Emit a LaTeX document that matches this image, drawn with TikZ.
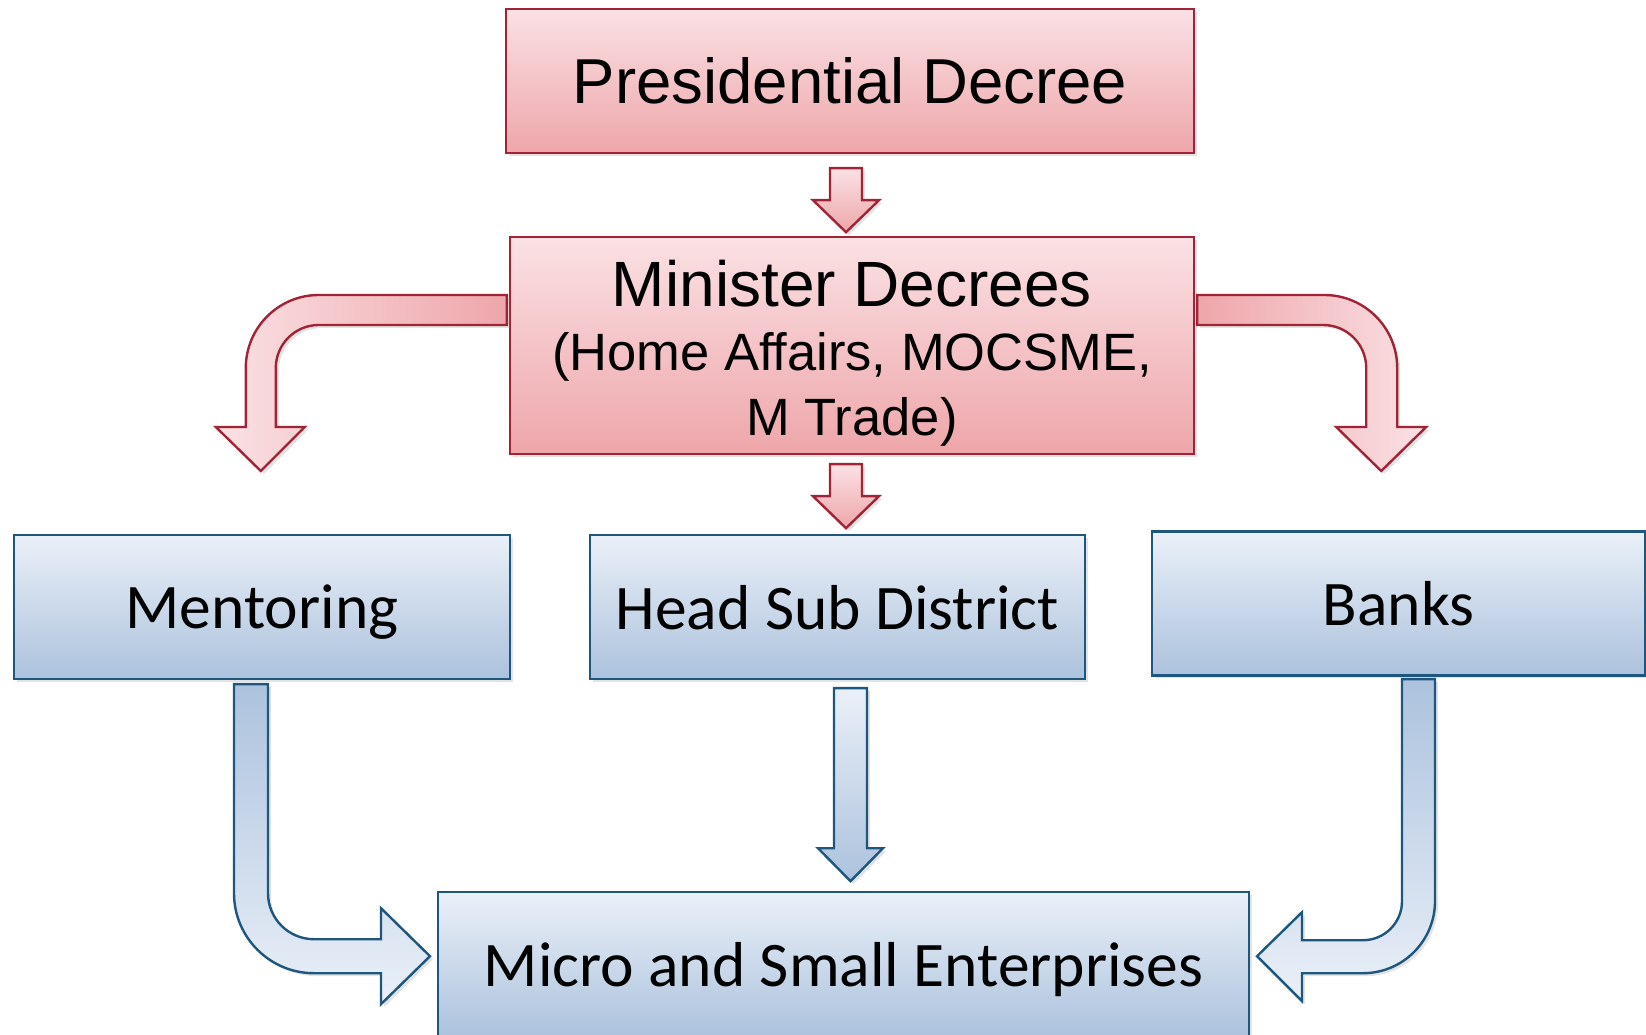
\documentclass[tikz,border=0pt]{standalone}
\usepackage{fontspec}
\setmainfont{Liberation Sans}
\newfontfamily\calibri{Carlito}
\usetikzlibrary{shadows}

\definecolor{decreetop}{RGB}{250,225,228}
\definecolor{decreebottom}{RGB}{238,166,170}
\definecolor{decreeline}{RGB}{160,36,54}
\definecolor{unittop}{RGB}{234,240,248}
\definecolor{unitbottom}{RGB}{172,194,221}
\definecolor{unitline}{RGB}{30,86,126}

\begin{document}
\begin{tikzpicture}[x=1pt,y=1pt,
    soft shadow/.style={drop shadow={opacity=0.22,shadow xshift=3pt,shadow yshift=-3pt}},
    decree node/.style={draw=decreeline,line width=2.4pt,top color=decreetop,bottom color=decreebottom,
      soft shadow,inner sep=0pt,font=\fontsize{63.5}{76}\selectfont},
    unit node/.style={draw=unitline,line width=2.4pt,top color=unittop,bottom color=unitbottom,
      soft shadow,inner sep=0pt,minimum height=144pt,text depth=0pt,font=\calibri\fontsize{63.5}{76}\selectfont},
    red arrow/.style={draw=decreeline,line width=2.4pt,soft shadow},
    blue arrow/.style={draw=unitline,line width=2.4pt,soft shadow}]
    \useasboundingbox (0,0) rectangle (1646,1034);

    \node[decree node,minimum width=688pt,minimum height=144pt] (pres) at (850,953) {Presidential Decree};
    \node[decree node,minimum width=684pt,minimum height=217pt,align=center,
      font=\fontsize{52.5}{64.5}\selectfont] (minister) at (852,688.5)
      {{\fontsize{64}{64.5}\selectfont\rule{0pt}{61pt}Minister Decrees}\\(Home Affairs, MOCSME,\\M Trade)};
    \node[unit node,minimum width=496pt] (mentor) at (262,427) {Mentoring};
    \node[unit node,minimum width=495pt] (head) at (837.5,427) {Head Sub District};
    \node[unit node,minimum width=493pt] (banks) at (1398.5,430.5) {Banks};
    \node[unit node,minimum width=811pt] (mse) at (843.5,70) {Micro and Small Enterprises};

    % decree to decree
    \draw[red arrow,top color=decreetop,bottom color=decreebottom] ([xshift=-20,yshift=-14]pres.south)
      -- ++(32,0) -- ++(0,-32) -- ++(17,0) -- ++(-33,-32) -- ++(-33,32) -- ++(17,0) -- cycle;
    \draw[red arrow,top color=decreetop,bottom color=decreebottom] ([xshift=-22,yshift=-9]minister.south)
      -- ++(32,0) -- ++(0,-32) -- ++(17,0) -- ++(-33,-32) -- ++(-33,32) -- ++(17,0) -- cycle;

    % bent arrows out of the minister box
    \draw[red arrow,left color=decreetop,right color=decreebottom] ([xshift=-2,yshift=50.5]minister.west)
      -- ++(-188,0) arc (90:180:73) -- ++(0,-59) -- ++(-30,0) -- ++(45,-44) -- ++(44,44)
      -- ++(-29,0) -- ++(0,59) arc (180:90:43) -- ([xshift=-2,yshift=20.5]minister.west) -- cycle;
    \draw[red arrow,left color=decreebottom,right color=decreetop] ([xshift=2,yshift=50.5]minister.east)
      -- ++(127,0) arc (90:0:73) -- ++(0,-59) -- ++(29,0) -- ++(-45,-44) -- ++(-45,44)
      -- ++(30,0) -- ++(0,59) arc (0:90:43) -- ([xshift=2,yshift=20.5]minister.east) -- cycle;

    % into the enterprises box
    \draw[blue arrow,top color=unittop,bottom color=unitbottom] ([xshift=-3.5,yshift=-8]head.south)
      -- ++(33,0) -- ++(0,-160) -- ++(16,0) -- ++(-32.5,-33) -- ++(-32.5,33) -- ++(16,0) -- cycle;
    \draw[blue arrow,top color=unitbottom,bottom color=unittop] ([xshift=-28,yshift=-4]mentor.south)
      -- ++(34,0) -- ++(0,-209) arc (180:270:46) -- ++(67,0) -- ++(0,31) -- ++(49,-48)
      -- ++(-49,-48) -- ++(0,31) -- ++(-67,0) arc (270:180:80) -- cycle;
    \draw[blue arrow,top color=unitbottom,bottom color=unittop] ([xshift=3.5,yshift=-2.5]banks.south)
      -- ++(33,0) -- ++(0,-222) arc (0:-90:72) -- ++(-61,0) -- ++(0,-28) -- ++(-45,45)
      -- ++(45,44) -- ++(0,-28) -- ++(61,0) arc (-90:0:39) -- cycle;
\end{tikzpicture}
\end{document}
